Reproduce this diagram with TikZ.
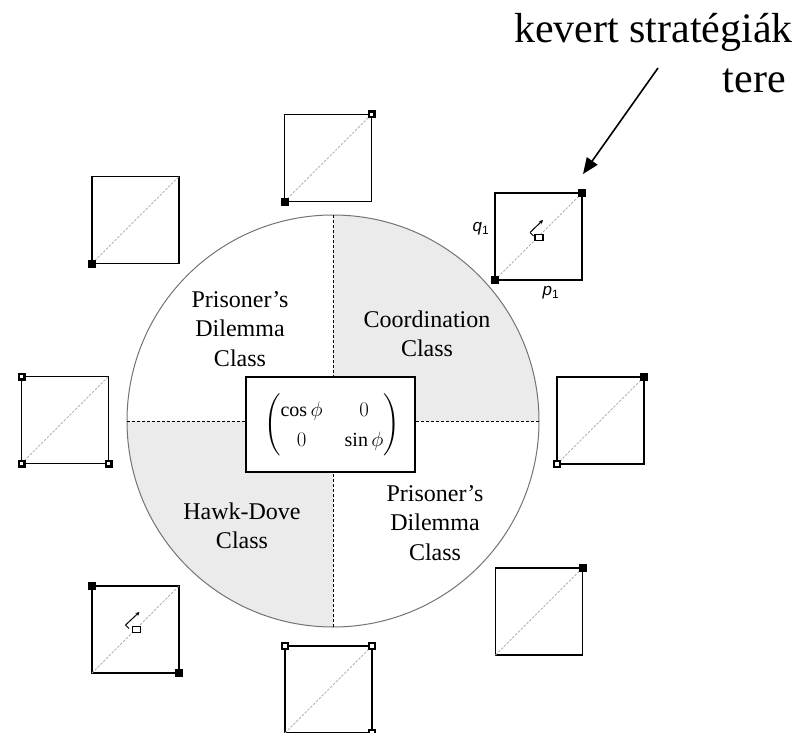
\documentclass[tikz,border=0pt]{standalone}
\usepackage{amsmath}
\usepackage{fontspec}
\setmainfont{Liberation Serif}
\newfontfamily\lsans{Liberation Sans}
\usetikzlibrary{arrows.meta}
\tikzset{
  sq/.style={draw=black, line width=1.6pt, minimum size=87pt, inner sep=0pt, outer sep=0pt},
  diag/.style={draw=black!30, line width=0.8pt, dash pattern=on 2.5pt off 1.5pt},
  fmk/.style={draw=black, fill=black, line width=0.6pt, minimum size=7pt, inner sep=0pt, outer sep=0pt},
  omk/.style={draw=black, fill=white, line width=2.4pt, minimum size=5.6pt, inner sep=0pt, outer sep=0pt},
  cls/.style={align=center, inner sep=0pt, font=\fontsize{24}{29.5}\selectfont},
  divline/.style={draw=black, line width=1pt, dash pattern=on 3pt off 2pt},
  lbl/.style={inner sep=0pt, font=\lsans\itshape\fontsize{17}{19}\selectfont},
  minirect/.style={draw=black, fill=white, line width=1.2pt, minimum width=8pt, minimum height=6pt, inner sep=0pt},
  miniarr/.style={draw=black, line width=1pt, -{Stealth[length=4pt,width=4pt]}},
}
\begin{document}
\begin{tikzpicture}[x=1pt,y=-1pt]
\useasboundingbox (0,0) rectangle (800,733);
% circle
\node[circle, minimum size=412pt, inner sep=0pt, outer sep=0pt] (circ) at (333,421) {};
\begin{scope}
  \clip (333,421) circle (206);
  \fill[black!8] (333,421) rectangle (545,210);
  \fill[black!8] (333,421) rectangle (120,632);
\end{scope}
\draw[black!55, line width=1pt] (333,421) circle (206);
% matrix box
\node[draw=black, fill=white, line width=1.6pt, minimum width=169pt, minimum height=95pt, inner sep=0pt, outer sep=0pt] (mat) at (330.5,424.5) {};
\node[inner sep=0pt] (matc) at (332,425) {\fontsize{20}{24}\selectfont$\arraycolsep=11pt\renewcommand{\arraystretch}{1.25}\begin{pmatrix}\cos\phi & 0\\ 0 & \sin\phi\end{pmatrix}$};
% dividing dashed lines
\draw[divline] (circ.west) -- (circ.west -| mat.west);
\draw[divline] (circ.east) -- (circ.east -| mat.east);
\draw[divline] (circ.north) -- (circ.north |- mat.north);
\draw[divline] (circ.south) -- (circ.south |- mat.south);
% class labels
\node[cls] (pd1) at (240,329) {Prisoner’s\\Dilemma\\Class};
\node[cls] (coord) at (427,334) {Coordination\\Class};
\node[cls] (hd) at (242,526) {Hawk-Dove\\Class};
\node[cls] (pd2) at (435,523) {Prisoner’s\\Dilemma\\Class};
% boxes
\node[sq] (b1) at (538.5,236.5) {};
\node[sq] (b2) at (328,158) {};
\node[sq] (b3) at (135.5,220) {};
\node[sq] (b4) at (65,420) {};
\node[sq] (b5) at (135.5,629.5) {};
\node[sq] (b6) at (328.5,689.5) {};
\node[sq] (b7) at (539,611.5) {};
\node[sq] (b8) at (600.5,420.5) {};
\foreach \b in {b1,b2,b3,b4,b5,b6,b7,b8}{
  \draw[diag] (\b.south west) -- (\b.north east);
}
% corner markers
\node[fmk] (m1a) at (b1.south west) {};
\node[fmk] (m1b) at (b1.north east) {};
\node[fmk] (m2a) at (b2.south west) {};
\node[omk] (m2b) at (b2.north east) {};
\node[fmk] (m3a) at (b3.south west) {};
\node[omk] (m4a) at (b4.north west) {};
\node[omk] (m4b) at (b4.south west) {};
\node[omk] (m4c) at (b4.south east) {};
\node[fmk] (m5a) at (b5.north west) {};
\node[fmk] (m5b) at (b5.south east) {};
\node[omk] (m6a) at (b6.north west) {};
\node[omk] (m6b) at (b6.north east) {};
\node[omk] (m6c) at (b6.south east) {};
\node[fmk] (m7a) at (b7.north east) {};
\node[fmk] (m8a) at (b8.north east) {};
\node[omk] (m8b) at (b8.south west) {};
% mini strategy points
\node[minirect] (r1) at (539,237.5) {};
\coordinate (r1s) at (530,232.5);
\coordinate (r1e) at (543,220);
\coordinate (r1t) at (533.5,236);
\draw[miniarr] (r1s) -- (r1e);
\draw[black, line width=1pt] (r1s) -- (r1t);
\node[minirect] (r5) at (136.5,629.5) {};
\coordinate (r5s) at (125.5,625);
\coordinate (r5e) at (139.5,612);
\coordinate (r5t) at (129,628.5);
\draw[miniarr] (r5s) -- (r5e);
\draw[black, line width=1pt] (r5s) -- (r5t);
% axis labels
\node[lbl] (q1) at (481,229) {q\textsubscript{\upshape\fontsize{12}{14}\selectfont 1}};
\node[lbl] (p1) at (551,293) {p\textsubscript{\upshape\fontsize{12}{14}\selectfont 1}};
% title and arrow
\node[anchor=base east, inner sep=0pt, font=\fontsize{42}{48}\selectfont] (t1) at (793,43) {kevert stratégiák};
\node[anchor=base east, inner sep=0pt, font=\fontsize{42}{48}\selectfont] (t2) at (786,93) {tere};
\coordinate (as) at (658,68);
\coordinate (at) at (583,174);
\draw[black, line width=1.6pt, -{Triangle[length=16pt,width=13pt]}] (as) -- (at);
\end{tikzpicture}
\end{document}
